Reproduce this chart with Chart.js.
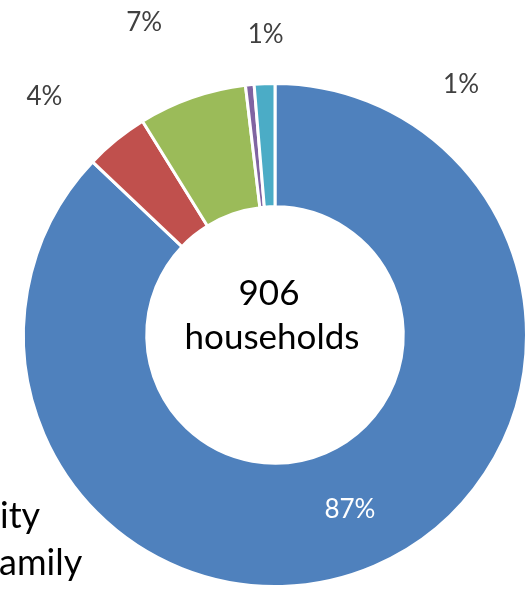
<!DOCTYPE html>
<html lang="en">
<head>
  <meta charset="UTF-8">
  <title>Households</title>
  <script src="https://cdn.jsdelivr.net/npm/chart.js"></script>
  <style>
    html, body { margin: 0; padding: 0; background: #fff; overflow: hidden; }
    #wrap { width: 531px; height: 590px; }
  </style>
</head>
<body>
  <div id="wrap"><canvas id="householdChart" width="531" height="590"></canvas></div>

  <script>
    // household counts per group (906 in total)
    var groups = ['Group A', 'Group B', 'Group C', 'Group D', 'Group E'];
    var households = [789, 37, 63, 5, 12];
    var percentLabels = ['87%', '4%', '7%', '1%', '1%'];
    var centerLines = ['906', 'households'];
    var cutText = ['ity', 'amily'];

    var colors = ['#4F81BD', '#C0504D', '#9BBB59', '#8064A2', '#4BACC6'];
    var FONT = 'Lato, "Open Sans", sans-serif';

    // label nudges away from the default outside spot (first label sits inside the ring)
    var labelNudge = [[0, 0], [-34, 3], [-28, -18], [22, 10], [199, 61]];

    var labelPlugin = {
      id: 'donutLabels',
      afterDatasetsDraw: function (chart) {
        var ctx = chart.ctx;
        var arcs = chart.getDatasetMeta(0).data;
        var cx = arcs[0].x, cy = arcs[0].y;
        var outer = arcs[0].outerRadius, inner = arcs[0].innerRadius;
        ctx.save();
        ctx.textAlign = 'center';
        ctx.textBaseline = 'middle';
        ctx.font = '26px ' + FONT;
        arcs.forEach(function (arc, i) {
          var mid = (arc.startAngle + arc.endAngle) / 2;
          var r = i === 0 ? (outer + inner) / 2 : outer + 60;
          var x = cx + r * Math.cos(mid) + labelNudge[i][0];
          var y = cy + r * Math.sin(mid) + labelNudge[i][1];
          ctx.fillStyle = i === 0 ? '#ffffff' : '#404040';
          ctx.fillText(percentLabels[i], x, y);
        });

        // total in the hole
        ctx.fillStyle = '#000000';
        ctx.font = '35px ' + FONT;
        ctx.textBaseline = 'alphabetic';
        ctx.fillText(centerLines[0], cx - 6, cy - 30);
        ctx.fillText(centerLines[1], cx - 3, cy + 14);

        // legend text running off the left edge
        ctx.font = '36px ' + FONT;
        ctx.textAlign = 'left';
        ctx.fillText(cutText[0], 0, 528);
        ctx.fillText(cutText[1], -1, 575);
        ctx.restore();
      }
    };

    var ctx = document.getElementById('householdChart').getContext('2d');
    var householdChart = new Chart(ctx, {
      type: 'doughnut',
      data: {
        labels: groups,
        datasets: [{
          data: households,
          backgroundColor: colors,
          borderColor: '#ffffff',
          borderWidth: 3
        }]
      },
      options: {
        responsive: false,
        animation: false,
        cutout: '51%',
        layout: { padding: { left: 22, right: 3, top: 82, bottom: 2 } },
        plugins: {
          legend: { display: false },
          tooltip: { enabled: false }
        }
      },
      plugins: [labelPlugin]
    });
  </script>
</body>
</html>
